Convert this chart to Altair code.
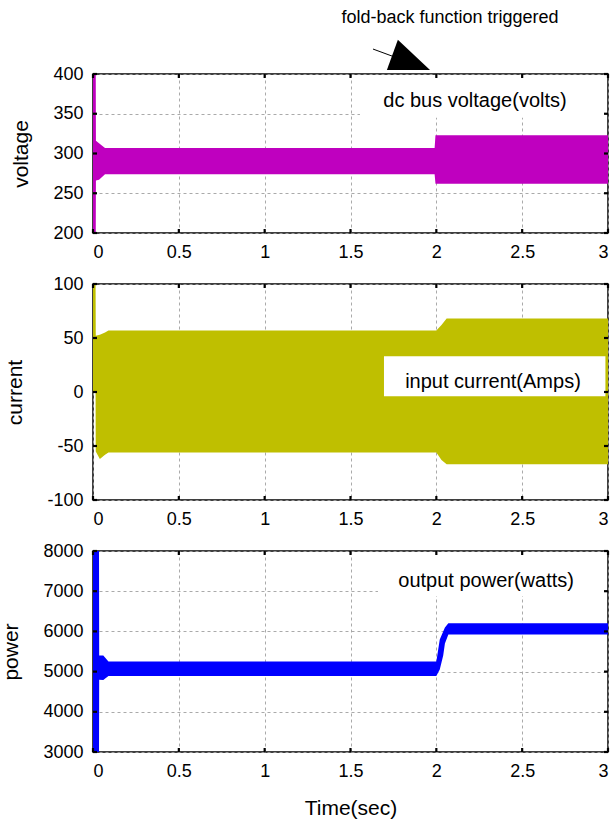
import altair as alt
import pandas as pd

FONT = "Liberation Sans"
W = 515
H1, H2, H3 = 159, 216, 201

# ---------------- data ----------------
# x axis ticks
x_ticks = [0, 0.5, 1, 1.5, 2, 2.5, 3]

# dc bus voltage envelope (band of the fast ripple)
t_v = [0.000, 0.016, 0.017, 0.035, 0.070, 1.990, 1.995, 3.000]
lo_v = [200, 200, 266, 267, 274, 274, 262, 262]
hi_v = [400, 400, 316, 313, 307, 307, 323, 323]
v_ticks = [200, 250, 300, 350, 400]

# input current envelope
t_c = [0.000, 0.015, 0.016, 0.040, 0.070, 0.090, 2.000, 2.030, 2.060, 3.000]
lo_c = [0, 0, -55, -62, -58, -56, -56, -63, -67, -67]
hi_c = [100, 100, 52, 53, 55, 57, 57, 62, 68, 68]
c_ticks = [-100, -50, 0, 50, 100]

# output power envelope
t_p = [0.000, 0.035, 0.036, 0.060, 0.090, 2.000, 2.020, 2.040, 2.050, 2.070, 3.000]
lo_p = [3000, 3000, 4800, 4790, 4890, 4890, 5050, 5400, 5700, 5920, 5920]
hi_p = [8000, 8000, 5400, 5400, 5250, 5250, 5800, 6000, 6100, 6200, 6200]
p_ticks = [3000, 4000, 5000, 6000, 7000, 8000]

# in-plot labels: text, x, y, and white box behind them
lab_v = dict(text="dc bus voltage(volts)", t=2.225, y=366, box=(1.555, 2.985, 345, 397))
lab_c = dict(text="input current(Amps)", t=2.33, y=9, box=(1.695, 2.985, -4, 33))
lab_p = dict(text="output power(watts)", t=2.29, y=7254, box=(1.66, 2.985, 6880, 7950))

# annotation above the top panel (data coordinates of the voltage panel)
note_text = "fold-back function triggered"
note_t, note_y = 2.08, 470
arrow_line_t = [1.631, 1.788]
arrow_line_y = [431.4, 418.9]
head_t = [1.712, 1.776, 1.963]
head_lo = [405, 405, 405]
head_hi = [405, 443, 405]


def panel(t, lo, hi, color, ydom, yticks, ytitle, H, lab, xtitle=None, extra=None):
    df = pd.DataFrame({"t": t, "lo": lo, "hi": hi})
    xscale = alt.Scale(domain=[0, 3], nice=False, zero=False)
    yscale = alt.Scale(domain=ydom, nice=False, zero=False)
    xaxis = alt.Axis(values=x_ticks, labelExpr="datum.value + ''", title=xtitle,
                     titlePadding=17)
    yaxis = alt.Axis(values=yticks, labelExpr="datum.value + ''", title=ytitle,
                     titlePadding=21)
    X = lambda: alt.X("t:Q", scale=xscale, axis=xaxis)
    Y = lambda: alt.Y("lo:Q", scale=yscale, axis=yaxis)
    area = alt.Chart(df).mark_area(color=color, opacity=1, line=False).encode(
        x=X(), y=Y(), y2="hi:Q",
    )
    bdf = pd.DataFrame({"t": [lab["box"][0]], "t2": [lab["box"][1]],
                        "lo": [lab["box"][2]], "hi": [lab["box"][3]]})
    box = alt.Chart(bdf).mark_rect(fill="white").encode(
        x=X(), x2="t2:Q", y=Y(), y2="hi:Q",
    )
    tdf = pd.DataFrame({"t": [lab["t"]], "lo": [lab["y"]], "txt": [lab["text"]]})
    txt = alt.Chart(tdf).mark_text(font=FONT, fontSize=20, color="black",
                                   align="center", baseline="middle").encode(
        x=X(), y=Y(), text="txt:N",
    )
    # inward MATLAB-style ticks
    xt = pd.DataFrame({"t": x_ticks})
    yt = pd.DataFrame({"lo": yticks})
    tk = dict(color="black", strokeWidth=2.2)
    tb = alt.Chart(xt).mark_rule(**tk).encode(x=X(), y=alt.value(H), y2=alt.value(H - 4))
    tt = alt.Chart(xt).mark_rule(**tk).encode(x=X(), y=alt.value(0), y2=alt.value(4))
    tl = alt.Chart(yt).mark_rule(**tk).encode(y=Y(), x=alt.value(0), x2=alt.value(4))
    tr = alt.Chart(yt).mark_rule(**tk).encode(y=Y(), x=alt.value(W - 4), x2=alt.value(W))
    layers = [area, box, txt, tb, tt, tl, tr]
    if extra is not None:
        layers += extra(X, Y)
    return alt.layer(*layers).properties(width=W, height=H)


def note_layers(X, Y):
    ndf = pd.DataFrame({"t": [note_t], "lo": [note_y], "txt": [note_text]})
    ntxt = alt.Chart(ndf).mark_text(font=FONT, fontSize=18, color="black",
                                    align="center", baseline="middle").encode(
        x=X(), y=Y(), text="txt:N")
    ldf = pd.DataFrame({"t": arrow_line_t, "lo": arrow_line_y})
    line = alt.Chart(ldf).mark_line(color="black", strokeWidth=1, clip=False).encode(
        x=X(), y=Y())
    hdf = pd.DataFrame({"t": head_t, "lo": head_lo, "hi": head_hi})
    head = alt.Chart(hdf).mark_area(color="black", opacity=1, clip=False).encode(
        x=X(), y=Y(), y2="hi:Q")
    return [ntxt, line, head]


p1 = panel(t_v, lo_v, hi_v, "#BF00BF", [200, 400], v_ticks, "voltage", H1, lab_v,
           extra=note_layers)
p2 = panel(t_c, lo_c, hi_c, "#BFBF00", [-100, 100], c_ticks, "current", H2, lab_c)
p3 = panel(t_p, lo_p, hi_p, "#0000FF", [3000, 8000], p_ticks, "power", H3, lab_p,
           xtitle="Time(sec)")

chart = alt.vconcat(p1, p2, p3, spacing=12).properties(
    padding={"left": 0, "top": 8, "right": 0, "bottom": 4},
    background="white",
).configure_view(
    stroke="black", strokeWidth=1.5
).configure_axis(
    labelFont=FONT, titleFont=FONT, labelFontSize=18, titleFontSize=21,
    titleFontWeight="normal", labelColor="black", titleColor="black",
    domain=False, ticks=False, tickSize=0, labelPadding=10,
    grid=True, gridColor="#a0a0a0", gridDash=[3, 3], gridWidth=0.9,
)

chart.save("out.html", embed_options={"renderer": "svg", "actions": False})
